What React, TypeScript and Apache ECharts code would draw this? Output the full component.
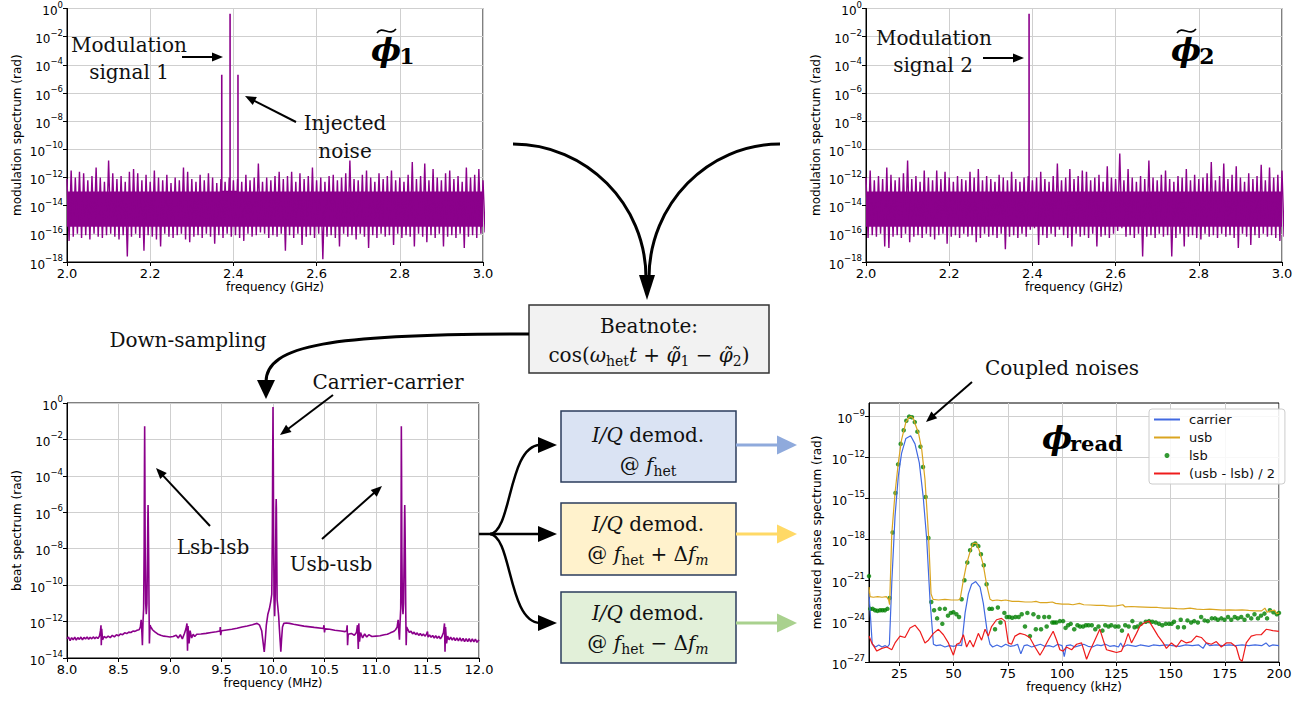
import React, { useEffect, useRef } from 'react';
import * as echarts from 'echarts';

const SANS = 'DejaVu Sans';
const SERIF = 'DejaVu Serif';
const PURPLE = '#8b008b';

// ---- top-left: modulation spectrum phi1 (values are log10 of rad) ----
const noiseStartGHz = 2.0;
const noiseStepGHz = 0.01;
const phi1NoiseTop = [-12.1,-11.5,-12.0,-11.6,-11.7,-12.2,-11.9,-11.3,-12.0,-12.3,
 -10.8,-11.7,-12.1,-11.9,-12.3,-11.6,-11.4,-11.7,-12.2,-11.8,
 -12.3,-11.5,-12.0,-12.2,-11.8,-12.4,-12.0,-12.2,-11.3,-11.6,
 -12.1,-12.3,-11.8,-12.2,-11.7,-12.0,-12.4,-12.1,-12.3,-12.0,
 -12.2,-12.1,-12.3,-11.8,-12.2,-12.0,-11.0,-12.3,-12.0,-12.2,
 -11.9,-11.6,-12.1,-11.9,-11.6,-12.3,-11.7,-12.1,-11.9,-11.3,
 -12.2,-12.0,-12.3,-11.9,-11.8,-12.2,-12.0,-11.7,-10.8,-12.1,
 -12.2,-11.8,-11.5,-12.0,-12.3,-11.7,-12.1,-11.9,-11.5,-12.2,
 -12.0,-12.3,-11.8,-10.9,-12.1,-11.9,-11.0,-12.2,-11.4,-12.0,
 -12.2,-11.7,-11.5,-12.1,-11.9,-12.3,-11.3,-12.0,-11.8,-11.4,
 -12.2];
const phi1NoiseBottom = [-16.5,-16.2,-16.0,-16.3,-16.1,-16.4,-16.0,-16.2,-16.3,-16.1,
 -16.0,-16.2,-16.4,-16.1,-17.6,-16.2,-16.0,-16.3,-17.2,-16.1,
 -16.2,-16.4,-16.9,-16.0,-16.2,-16.3,-16.1,-16.0,-16.4,-16.6,
 -16.2,-16.1,-16.3,-16.0,-16.2,-16.7,-16.1,-16.3,-16.0,-16.2,
 -16.1,-16.3,-16.5,-16.0,-16.2,-16.1,-15.9,-16.0,-16.3,-16.1,
 -16.2,-16.0,-17.2,-16.1,-16.3,-16.0,-16.8,-16.2,-16.1,-16.3,
 -16.0,-17.8,-16.2,-16.1,-16.3,-16.9,-16.0,-16.2,-16.1,-16.4,
 -16.0,-16.2,-17.0,-16.1,-16.3,-16.0,-16.2,-16.1,-16.8,-16.0,
 -16.3,-16.1,-16.2,-16.9,-16.0,-16.2,-16.6,-16.1,-16.3,-16.0,
 -16.9,-16.2,-16.1,-16.3,-16.0,-17.0,-16.2,-16.1,-16.3,-16.0,
 -15.9];
const noiseBand = [-15.5, -13.0];
const phi1PeakGHz = [2.372, 2.392, 2.411];
const phi1PeakLog = [-4.7, -0.38, -4.7];

// ---- top-right: modulation spectrum phi2 ----
const phi2NoiseTop = [-12.0,-11.5,-12.2,-11.9,-12.1,-11.3,-11.8,-12.2,-12.0,-11.7,
 -10.8,-12.1,-11.9,-12.3,-11.5,-12.0,-12.2,-11.5,-12.1,-11.6,
 -12.0,-12.3,-11.9,-12.1,-12.2,-11.6,-12.0,-11.4,-12.2,-11.9,
 -12.1,-12.3,-11.8,-12.0,-12.2,-11.6,-12.1,-12.3,-12.0,-11.9,
 -12.2,-12.0,-11.6,-12.1,-12.3,-11.9,-11.0,-12.2,-12.0,-11.4,
 -12.1,-11.9,-11.5,-11.6,-12.2,-12.0,-11.8,-12.3,-11.2,-12.0,
 -12.1,-10.3,-12.2,-11.4,-12.0,-12.3,-11.9,-12.1,-10.8,-12.0,
 -12.2,-11.8,-11.5,-12.1,-12.3,-11.9,-12.0,-11.4,-12.2,-11.8,
 -12.1,-12.0,-11.7,-10.9,-12.2,-11.9,-11.0,-12.1,-11.8,-11.2,
 -12.0,-12.3,-11.7,-12.1,-11.9,-11.1,-12.2,-11.3,-12.0,-11.8,
 -11.5];
const phi2NoiseBottom = [-16.3,-16.1,-16.2,-16.0,-16.9,-17.0,-16.2,-16.1,-16.3,-16.0,
 -16.6,-16.2,-16.1,-16.3,-16.0,-16.2,-16.4,-16.1,-16.0,-16.7,
 -16.2,-16.1,-16.3,-16.0,-16.2,-16.1,-16.6,-16.3,-16.0,-16.2,
 -16.1,-16.3,-16.0,-17.1,-16.2,-16.1,-16.3,-16.0,-16.2,-15.7,
 -15.6,-16.8,-16.1,-16.3,-16.0,-16.2,-15.7,-16.1,-16.3,-16.9,
 -16.0,-16.2,-16.1,-16.3,-16.0,-16.9,-16.2,-16.1,-16.3,-16.0,
 -15.8,-15.6,-16.2,-16.1,-16.3,-16.0,-17.6,-16.2,-16.1,-16.3,
 -16.0,-16.2,-16.1,-17.6,-16.3,-16.0,-16.9,-16.2,-16.1,-16.3,
 -16.4,-16.0,-16.2,-16.1,-16.3,-16.0,-16.2,-16.1,-16.3,-17.0,
 -16.0,-16.2,-16.8,-16.1,-16.3,-16.0,-16.2,-16.1,-16.3,-16.5,
 -16.2];
const phi2PeakGHz = [2.392];
const phi2PeakLog = [-0.38];
const peakBaseLog = -13;

// ---- bottom-left: beat spectrum [MHz, log10 rad] ----
const beatSpectrum = [
 [8.000,-12.95],[8.015,-12.85],[8.030,-13.05],[8.045,-12.88],[8.060,-13.0],[8.075,-12.85],[8.090,-13.02],[8.105,-12.88],
 [8.120,-12.98],[8.135,-12.85],[8.150,-13.0],[8.165,-12.87],[8.180,-12.96],[8.195,-12.84],[8.210,-12.97],[8.225,-12.86],
 [8.240,-12.95],[8.255,-12.84],[8.270,-12.94],[8.285,-12.85],[8.300,-12.93],[8.315,-12.8],[8.325,-12.5],[8.330,-12.2],
 [8.333,-13.3],[8.337,-12.4],[8.345,-13.0],[8.360,-12.82],[8.380,-12.9],[8.400,-12.8],[8.420,-12.88],[8.440,-12.76],
 [8.460,-12.84],[8.480,-12.72],[8.500,-12.78],[8.520,-12.68],[8.540,-12.72],[8.560,-12.62],[8.580,-12.66],[8.600,-12.58],
 [8.620,-12.6],[8.640,-12.52],[8.660,-12.54],[8.680,-12.48],[8.700,-12.45],[8.712,-12.3],[8.720,-11.9],[8.727,-12.6],
 [8.732,-13.3],[8.738,-12.0],[8.744,-11.3],[8.749,-8.0],[8.752,-3.5],[8.754,-1.28],[8.756,-3.5],[8.759,-8.0],
 [8.764,-11.0],[8.770,-11.6],[8.776,-11.0],[8.781,-8.5],[8.785,-6.3],[8.787,-5.6],[8.789,-6.3],[8.793,-8.5],
 [8.797,-11.5],[8.800,-13.2],[8.806,-12.2],[8.815,-12.3],[8.830,-12.45],[8.850,-12.55],[8.880,-12.68],[8.910,-12.75],
 [8.940,-12.8],[8.970,-12.82],[9.000,-12.85],[9.030,-12.82],[9.060,-12.75],[9.080,-12.9],[9.100,-12.72],[9.120,-12.95],
 [9.140,-12.65],[9.155,-12.4],[9.165,-12.1],[9.170,-13.6],[9.175,-12.25],[9.185,-13.2],[9.195,-12.5],[9.210,-12.9],
 [9.225,-12.7],[9.240,-12.82],[9.260,-12.7],[9.300,-12.68],[9.350,-12.65],[9.400,-12.6],[9.450,-12.56],[9.485,-12.52],
 [9.488,-12.3],[9.492,-12.75],[9.500,-12.5],[9.550,-12.46],[9.600,-12.42],[9.650,-12.37],[9.700,-12.3],[9.750,-12.24],
 [9.800,-12.17],[9.845,-12.1],[9.870,-12.2],[9.890,-12.5],[9.905,-13.2],[9.915,-13.66],[9.925,-13.0],[9.935,-12.2],
 [9.950,-11.6],[9.965,-11.3],[9.978,-10.9],[9.988,-10.5],[9.994,-7.0],[9.997,-3.0],[10.000,-0.22],[10.003,-3.0],
 [10.006,-7.0],[10.010,-10.6],[10.016,-11.7],[10.022,-10.5],[10.026,-8.0],[10.029,-5.8],[10.031,-5.27],[10.033,-5.8],
 [10.036,-8.0],[10.040,-10.8],[10.047,-11.2],[10.055,-11.7],[10.062,-12.4],[10.070,-13.1],[10.076,-13.66],[10.083,-13.0],
 [10.092,-12.3],[10.105,-12.1],[10.130,-12.08],[10.160,-12.1],[10.200,-12.15],[10.300,-12.25],[10.400,-12.32],[10.490,-12.38],
 [10.495,-12.2],[10.500,-12.6],[10.505,-12.4],[10.550,-12.42],[10.600,-12.48],[10.660,-12.52],[10.700,-12.55],[10.715,-12.5],
 [10.720,-12.2],[10.724,-13.3],[10.730,-12.7],[10.760,-12.65],[10.790,-12.75],[10.810,-12.6],[10.820,-12.2],[10.828,-13.5],
 [10.833,-12.1],[10.840,-13.1],[10.850,-12.6],[10.870,-12.9],[10.890,-12.68],[10.910,-12.85],[10.930,-12.72],[10.960,-12.82],
 [11.000,-12.8],[11.040,-12.78],[11.080,-12.72],[11.110,-12.7],[11.140,-12.62],[11.170,-12.55],[11.190,-12.45],[11.205,-12.3],
 [11.215,-11.9],[11.222,-12.6],[11.228,-13.0],[11.234,-12.0],[11.240,-11.3],[11.243,-8.0],[11.245,-3.5],[11.246,-1.28],
 [11.248,-3.5],[11.251,-8.0],[11.256,-11.0],[11.262,-11.6],[11.268,-11.0],[11.273,-8.5],[11.277,-6.3],[11.279,-5.6],
 [11.281,-6.3],[11.285,-8.5],[11.289,-11.5],[11.293,-13.3],[11.298,-12.3],[11.310,-12.45],[11.325,-12.6],[11.340,-12.52],
 [11.355,-12.68],[11.370,-12.58],[11.385,-12.72],[11.400,-12.62],[11.415,-12.76],[11.430,-12.65],[11.445,-12.78],[11.460,-12.68],
 [11.475,-12.8],[11.490,-12.7],[11.500,-12.55],[11.505,-12.85],[11.520,-12.74],[11.535,-12.86],[11.550,-12.76],[11.565,-12.9],
 [11.580,-12.78],[11.595,-12.92],[11.610,-12.8],[11.625,-12.95],[11.640,-12.82],[11.655,-12.6],[11.665,-12.1],[11.670,-13.66],
 [11.675,-12.3],[11.685,-13.2],[11.695,-12.8],[11.710,-13.0],[11.725,-12.86],[11.740,-13.02],[11.755,-12.88],[11.770,-13.04],
 [11.785,-12.9],[11.800,-13.06],[11.815,-12.9],[11.830,-13.08],[11.845,-12.92],[11.860,-13.1],[11.875,-12.93],[11.890,-13.1],
 [11.905,-12.94],[11.920,-13.12],[11.935,-12.95],[11.950,-13.12],[11.965,-12.96],[11.980,-13.14],[12.000,-13.0]
];

// ---- bottom-right: measured phase spectrum [kHz, log10 rad] ----
const carrier = [[11,-22.0],[12.5,-25.7],[14,-25.9],[15.5,-25.75],[17,-25.9],[18.5,-25.8],[19.5,-25.9],[20.4,-25.7],
 [21.5,-21.2],[23,-16.3],[24.5,-13.4],[26,-11.7],[28,-10.6],[30.2,-10.4],[32.2,-11.0],[34.2,-12.4],[36,-14.9],[37.6,-18.0],
 [39.1,-22.4],[40.7,-25.7],[42,-25.8],[44,-25.75],[46,-25.9],[48,-25.8],[50,-25.85],[52,-25.75],[53.7,-25.8],[55.3,-23.4],
 [56.8,-22.0],[58.3,-21.3],[60.2,-21.1],[62.2,-21.5],[63.7,-22.7],[65.6,-24.9],[66.8,-25.7],[68,-25.9],[70,-25.75],[72,-25.9],
 [74,-25.7],[76,-25.85],[78,-25.8],[79.5,-25.7],[81,-26.4],[82.5,-25.8],[84,-25.75],[86,-25.9],[88,-25.8],[90,-25.7],
 [92,-25.85],[94,-25.8],[96,-25.9],[98,-25.7],[100,-25.8],[101,-26.6],[102,-25.8],[104,-25.75],[106,-25.9],[108,-25.8],
 [110,-25.7],[112,-25.85],[114,-25.9],[116,-25.75],[118,-25.8],[120,-25.7],[122,-25.85],[124,-25.8],[126,-25.9],[127,-25.6],
 [128,-25.9],[130,-25.75],[132,-25.8],[134,-25.85],[136,-25.75],[138,-25.8],[140,-25.85],[142,-25.75],[145,-25.8],[148,-25.75],
 [151,-25.8],[154,-25.85],[157,-25.75],[160,-25.8],[163,-25.75],[165,-26.0],[166.5,-25.6],[168,-25.8],[171,-25.75],[174,-25.8],
 [177,-25.75],[180,-25.8],[183,-25.75],[186,-25.8],[189,-25.75],[192,-25.8],[194,-25.6],[195.5,-25.85],[197,-25.75],[200,-25.8]];
const usb = [[11,-21.5],[11.5,-22.2],[13,-22.25],[15,-22.2],[17,-22.25],[19,-22.2],[20,-22.4],[20.5,-22.8],[21.5,-17.6],
 [23,-14.6],[24.5,-12.4],[26,-10.7],[28,-9.4],[29.5,-9.05],[30.4,-9.0],[31.5,-9.15],[32.2,-9.5],[33.8,-10.2],[35.3,-11.4],
 [36.8,-13.6],[38.4,-17.6],[39.6,-22.0],[40.5,-22.4],[43,-22.45],[46,-22.4],[49,-22.45],[52,-22.45],[53,-22.4],[54.5,-21.0],
 [56,-19.8],[57.6,-18.9],[59,-18.3],[60.6,-18.3],[62,-18.9],[63.7,-19.9],[65.2,-21.3],[66.8,-22.4],[68,-22.5],[70,-22.45],
 [72,-22.5],[74,-22.45],[77,-22.55],[80,-22.55],[83,-22.6],[86,-22.6],[88,-22.55],[90,-22.65],[93,-22.65],[95.5,-22.6],
 [97,-22.7],[100,-22.75],[103,-22.75],[105,-22.8],[108,-22.7],[110,-22.8],[113,-22.82],[116,-22.85],[119,-22.85],[122,-22.9],
 [125,-22.88],[128,-22.8],[129,-22.95],[132,-22.93],[135,-22.95],[138,-22.97],[141,-23.0],[144,-23.0],[147,-23.05],[150,-23.05],
 [153,-23.08],[156,-23.1],[159,-23.05],[162,-23.12],[165,-23.15],[168,-23.12],[171,-23.16],[174,-23.2],[177,-23.17],[180,-23.2],
 [183,-23.18],[186,-23.22],[189,-23.25],[192,-23.25],[193.5,-23.05],[194.5,-23.35],[196,-23.25],[198,-23.2],[199,-23.45],[200,-23.4]];
const lsb = [[11,-20.7],[11.6,-23.1],[12.7,-23.1],[13.8,-23.2],[14.9,-23.25],[16.1,-23.2],[17.2,-23.2],[18.3,-23.2],[19.5,-23.1],
 [20.5,-22.3],[21.9,-17.5],[23.2,-14.6],[24.4,-12.5],[25.6,-11.0],[27,-10.0],[28.2,-9.3],[29.5,-9.0],[30.8,-9.05],[32.1,-9.4],
 [33.3,-10.1],[34.7,-11.2],[35.9,-12.7],[37.1,-14.9],[38.4,-17.9],[39.7,-22.6],[41,-23.2],[42.4,-23.8],[43.6,-23.1],[44.8,-24.2],
 [46,-23.1],[47.4,-23.6],[48.7,-23.4],[49.9,-23.35],[51.3,-23.5],[52.5,-23.7],[53.7,-22.4],[55,-21.0],[56.3,-19.7],[57.6,-18.8],
 [58.8,-18.4],[60,-18.3],[61.4,-18.5],[62.6,-19.1],[63.9,-19.9],[65.2,-21.3],[66.5,-23.1],[67.7,-23.1],[69.1,-24.6],[70.4,-23.0],
 [71.6,-24.1],[73.4,-23.4],[74.5,-23.7],[75.7,-23.7],[77,-23.75],[78.5,-23.7],[80,-23.7],[81.4,-23.5],[82.9,-24.4],[84,-23.4],
 [85.2,-25.1],[86.8,-23.5],[87.9,-24.6],[89.1,-23.7],[90.3,-24.6],[91.8,-23.7],[92.9,-24.4],[94,-23.7],[95.5,-24.1],[96.4,-24.1],
 [97.4,-24.1],[99,-24.0],[100.5,-24.0],[101.6,-24.5],[102.8,-24.3],[104,-24.2],[105.6,-24.6],[107.1,-24.3],[108.3,-24.4],[109.7,-24.4],
 [111,-24.3],[112.2,-24.3],[113.7,-24.3],[115.3,-24.6],[116.8,-24.4],[118.6,-24.7],[119.9,-24.3],[121.4,-24.4],[122.7,-24.3],[124.5,-24.4],
 [126,-24.4],[127.6,-24.7],[129.1,-24.3],[130.7,-24.4],[132.4,-24.0],[133.4,-24.45],[134.8,-24.4],[136.3,-24.2],[138.6,-24.05],[140.1,-24.0],
 [141.6,-24.05],[143.2,-24.1],[144.7,-24.2],[146.2,-24.3],[147.8,-24.2],[149.3,-24.2],[150.5,-24.2],[151.6,-24.05],[153.4,-24.45],[154.7,-23.9],
 [156.2,-24.45],[157.8,-23.95],[159.5,-24.1],[160.9,-24.0],[162.6,-24.1],[164.1,-23.7],[165.7,-23.95],[167.2,-24.0],[169,-23.8],[170.5,-23.8],
 [171.8,-23.9],[173.4,-23.8],[174.9,-23.9],[176.5,-23.7],[178,-23.9],[179.6,-23.7],[181,-23.8],[182.6,-23.7],[184.1,-23.9],[185.6,-23.6],
 [187.2,-23.8],[188.7,-23.5],[190.3,-23.8],[191.7,-23.6],[193.3,-23.45],[194.5,-23.8],[195.8,-23.2],[197.4,-23.35],[199,-23.5],[200,-23.4]];
const halfDiff = [[11,-25.1],[12.3,-25.6],[14.6,-26.2],[16.9,-26.0],[19.2,-25.9],[21.5,-26.1],[23,-25.6],[25.3,-25.1],[27.6,-25.2],
 [29.9,-24.5],[32.2,-24.3],[34.5,-24.75],[36.8,-25.6],[38.4,-25.4],[40.7,-24.9],[43,-24.6],[45.3,-25.0],[47.6,-25.6],[49.9,-26.5],
 [51.4,-25.7],[52.9,-25.6],[54.5,-25.0],[56,-25.9],[57.5,-25.4],[59.1,-25.9],[61.4,-24.9],[62.9,-25.4],[64.5,-24.6],[66,-25.1],
 [67.5,-24.4],[69.8,-23.9],[72.1,-23.8],[73.7,-24.0],[75.2,-25.6],[76.7,-25.7],[78.3,-25.1],[80.6,-24.9],[82.9,-25.0],[85.1,-25.2],
 [87.5,-25.9],[89.8,-26.5],[91.3,-26.1],[93.6,-25.4],[95.9,-24.75],[97.5,-25.4],[99,-26.1],[100.5,-26.2],[102,-25.9],[104.4,-26.1],
 [106.7,-25.7],[109,-25.6],[111.3,-26.8],[112.8,-26.2],[115.1,-25.4],[117.4,-24.6],[119,-25.4],[120.5,-26.1],[122.8,-26.2],[125.1,-26.3],
 [127.4,-26.2],[129,-25.6],[130.5,-24.9],[132,-25.6],[134.3,-24.9],[135.8,-24.4],[138.1,-24.1],[140.1,-24.0],[142,-24.5],[144.3,-25.1],
 [146.6,-25.6],[148.1,-26.0],[150.4,-25.6],[152.7,-25.9],[155,-25.4],[157.3,-25.6],[159.6,-25.5],[161.9,-25.1],[164.2,-25.2],[166.5,-25.6],
 [168.8,-25.7],[171.1,-25.5],[173.4,-25.9],[175.7,-25.6],[178,-25.6],[180.3,-25.9],[181.9,-26.8],[183,-26.95],[184.9,-25.6],[187.2,-25.1],
 [189.5,-25.0],[191.8,-25.0],[194.1,-24.6],[197.2,-24.7],[200,-24.75]];

const topXTicks = [2.0, 3.0, 0.2];
const beatXTicks = [8.0, 12.0, 0.5];
const phaseXTicks = [25, 50, 75, 100, 125, 150, 175, 200];
const phaseYTicks = [-27, -24, -21, -18, -15, -12, -9];

function noiseData(top: number[], bottom: number[]) {
  const out: number[][] = [];
  top.forEach((t, i) => {
    const x = noiseStartGHz + i * noiseStepGHz;
    out.push([x, t]);
    out.push([x + noiseStepGHz / 2, bottom[i]]);
  });
  return out;
}
function peakData(f: number[], v: number[]) {
  const out: number[][] = [];
  f.forEach((x, i) => {
    out.push([x, peakBaseLog], [x, v[i]], [x, peakBaseLog]);
  });
  return out;
}

const expRich = {
  b: { fontSize: 12, fontFamily: SANS, color: '#000', lineHeight: 17, verticalAlign: 'bottom' },
  s: { fontSize: 8.5, fontFamily: SANS, color: '#000', lineHeight: 17, verticalAlign: 'top' },
};
const expFmt = (v: number) => {
  const n = Math.round(v);
  return `{b|10}{s|${n < 0 ? '\u2212' + -n : n}}`;
};

const axisCommon = {
  type: 'value',
  nameLocation: 'middle',
  nameTextStyle: { fontSize: 12, fontFamily: SANS, color: '#000' },
  axisLine: { show: true, onZero: false, lineStyle: { color: '#000', width: 1 } },
  axisTick: { show: true, length: 4, lineStyle: { color: '#000', width: 1 } },
  splitLine: { show: true, lineStyle: { color: '#cfcfcf', width: 1 } },
};
function mkX(gi: number, min: number, max: number, interval: number | undefined, name: string, digits: number, extra: any = {}) {
  return {
    ...axisCommon,
    gridIndex: gi, min, max, interval, name, nameGap: 19,
    axisLabel: { fontSize: 13, fontFamily: SANS, color: '#000', margin: 5, formatter: (v: number) => v.toFixed(digits), ...(extra.axisLabel || {}) },
    axisTick: { ...axisCommon.axisTick, ...(extra.axisTick || {}) },
  };
}
function mkY(gi: number, min: number, max: number, interval: number | undefined, name: string, gap: number, extra: any = {}) {
  return {
    ...axisCommon,
    gridIndex: gi, min, max, interval, name, nameGap: gap,
    axisLabel: { margin: 4, formatter: expFmt, rich: expRich, ...(extra.axisLabel || {}) },
    axisTick: { ...axisCommon.axisTick, ...(extra.axisTick || {}) },
  };
}

function arrow(x1: number, y1: number, x2: number, y2: number, lw = 2, len = 11, w = 9, color = '#000') {
  const a = Math.atan2(y2 - y1, x2 - x1);
  const bx = x2 - len * Math.cos(a), by = y2 - len * Math.sin(a);
  const px = (-Math.sin(a) * w) / 2, py = (Math.cos(a) * w) / 2;
  return [
    { type: 'line', z: 50, shape: { x1, y1, x2: bx + Math.cos(a), y2: by + Math.sin(a) }, style: { stroke: color, lineWidth: lw } },
    { type: 'polygon', z: 50, shape: { points: [[x2, y2], [bx + px, by + py], [bx - px, by - py]] }, style: { fill: color } },
  ];
}
function curve(x1: number, y1: number, c1x: number, c1y: number, c2x: number, c2y: number, x2: number, y2: number, lw = 3, color = '#000') {
  return { type: 'bezierCurve', z: 50, shape: { x1, y1, cpx1: c1x, cpy1: c1y, cpx2: c2x, cpy2: c2y, x2, y2 }, style: { stroke: color, lineWidth: lw, fill: null } };
}
function head(points: number[][], color = '#000') {
  return { type: 'polygon', z: 50, shape: { points }, style: { fill: color } };
}
function label(text: string, x: number, y: number, size = 20, extra: any = {}) {
  return {
    type: 'text', z: 60, x, y,
    style: { text, fontSize: size, fontFamily: SERIF, fill: '#111', align: 'center', verticalAlign: 'middle', ...extra },
  };
}
const boxRich = {
  i: { fontStyle: 'italic', fontSize: 20, fontFamily: SERIF, fill: '#111', lineHeight: 26, verticalAlign: 'middle' },
  sub: { fontSize: 14, fontFamily: SERIF, fill: '#111', lineHeight: 26, verticalAlign: 'bottom' },
  subi: { fontSize: 14, fontStyle: 'italic', fontFamily: SERIF, fill: '#111', lineHeight: 26, verticalAlign: 'bottom' },
};
function boxText(text: string, x: number, y: number) {
  return {
    type: 'text', z: 60, x, y,
    style: { text, fontSize: 20, fontFamily: SERIF, fill: '#111', align: 'center', verticalAlign: 'middle', lineHeight: 26, rich: boxRich },
  };
}
function phiTitle(x: number, y: number, sub: string, tilde: boolean) {
  const els: any[] = [
    { type: 'text', z: 60, x, y, style: { text: '\u03d5', fontSize: 32, fontFamily: SERIF, fontWeight: 'bold', fontStyle: 'italic', fill: '#000', align: 'center', verticalAlign: 'middle' } },
  ];
  if (sub === 'read') {
    els.push({ type: 'text', z: 60, x: x + 13, y: y + 5, style: { text: sub, fontSize: 21, fontFamily: SERIF, fontWeight: 'bold', fill: '#000', align: 'left', verticalAlign: 'middle' } });
  } else {
    els.push({ type: 'text', z: 60, x: x + 21, y: y + 6, style: { text: sub, fontSize: 22, fontFamily: SERIF, fontWeight: 'bold', fill: '#000', align: 'center', verticalAlign: 'middle' } });
  }
  if (tilde) {
    els.push({ type: 'bezierCurve', z: 60, shape: { x1: x - 9, y1: y - 17, cpx1: x - 4, cpy1: y - 25, cpx2: x + 4, cpy2: y - 13, x2: x + 10, y2: y - 21 }, style: { stroke: '#000', lineWidth: 1.6, fill: null } });
  }
  return els;
}

const graphicElements: any[] = [
  // annotations top-left
  label('Modulation', 129, 45), label('signal 1', 129, 72),
  ...arrow(182, 57, 223, 57),
  label('Injected', 345, 123), label('noise', 345, 151),
  ...arrow(296, 122, 245, 96),
  ...phiTitle(386, 50, '1', true),
  // annotations top-right
  label('Modulation', 934, 38), label('signal 2', 933, 65),
  ...arrow(983, 58, 1024, 58),
  ...phiTitle(1186, 50, '2', true),
  // converging arrows
  curve(513, 144, 586, 144, 646, 204, 646, 278),
  curve(780, 144, 708, 144, 649, 204, 649, 278),
  head([[639, 275], [655, 275], [647, 300]]),
  // beatnote box
  { type: 'rect', z: 40, shape: { x: 529, y: 305, width: 240, height: 68 }, style: { fill: '#f2f2f2', stroke: '#333', lineWidth: 1.5 } },
  boxText('Beatnote:', 649, 326),
  boxText('cos({i|\u03c9}{sub|het}{i|t} + {i|\u03c6\u0303}{sub|1} \u2212 {i|\u03c6\u0303}{sub|2})', 649, 355),
  // down-sampling
  curve(529, 334, 330, 334, 266, 345, 266, 382),
  head([[257, 380], [275, 380], [266, 399]]),
  label('Down-sampling', 188, 340),
  label('Carrier-carrier', 388, 382),
  ...arrow(333, 395, 280, 435),
  label('Lsb-lsb', 213, 547),
  ...arrow(210, 526, 156, 468),
  label('Usb-usb', 331, 564),
  ...arrow(322, 539, 382, 486),
  // branches
  { type: 'line', z: 50, shape: { x1: 479, y1: 534, x2: 540, y2: 534 }, style: { stroke: '#000', lineWidth: 2.5 } },
  curve(490, 534, 512, 532, 508, 446, 540, 445, 2.5),
  curve(490, 534, 512, 536, 508, 622, 540, 623, 2.5),
  head([[538, 437], [538, 453], [557, 445]]),
  head([[538, 526], [538, 542], [557, 534]]),
  head([[538, 615], [538, 631], [557, 623]]),
  // demod boxes
  { type: 'rect', z: 40, shape: { x: 561, y: 411, width: 175, height: 71 }, style: { fill: '#dae3f3', stroke: '#2b3d5c', lineWidth: 1.5 } },
  { type: 'rect', z: 40, shape: { x: 561, y: 503, width: 175, height: 72 }, style: { fill: '#fff2cc', stroke: '#2b3d5c', lineWidth: 1.5 } },
  { type: 'rect', z: 40, shape: { x: 561, y: 592, width: 175, height: 71 }, style: { fill: '#e2f0d9', stroke: '#2b3d5c', lineWidth: 1.5 } },
  boxText('{i|I/Q} demod.', 648, 435),
  boxText('@ {i|f}{sub|het}', 648, 465),
  boxText('{i|I/Q} demod.', 648, 524),
  boxText('@ {i|f}{sub|het} + \u0394{i|f}{subi|m}', 648, 554),
  boxText('{i|I/Q} demod.', 648, 613),
  boxText('@ {i|f}{sub|het} \u2212 \u0394{i|f}{subi|m}', 648, 643),
  ...arrow(736, 445, 797, 445, 3, 20, 19, '#8faadc'),
  ...arrow(736, 534, 797, 534, 3, 20, 19, '#ffd966'),
  ...arrow(736, 623, 797, 623, 3, 20, 19, '#a9d18e'),
  // bottom-right
  label('Coupled noises', 1062, 368),
  ...arrow(972, 382, 926, 422),
  ...phiTitle(1057, 438, 'read', false),
];

const noLegendSymbol = { color: 'rgba(0,0,0,0)', borderWidth: 0, opacity: 0 };

const option: any = {
  animation: false,
  backgroundColor: '#ffffff',
  grid: [
    { left: 67, top: 7, width: 416, height: 255 },
    { left: 866, top: 7, width: 416, height: 255 },
    { left: 67, top: 403, width: 412, height: 255 },
    { left: 869, top: 403, width: 410, height: 259 },
  ].map((g) => ({ ...g, show: true, borderColor: '#000', borderWidth: 1, containLabel: false })),
  xAxis: [
    mkX(0, topXTicks[0], topXTicks[1], topXTicks[2], 'frequency (GHz)', 1),
    mkX(1, topXTicks[0], topXTicks[1], topXTicks[2], 'frequency (GHz)', 1),
    mkX(2, beatXTicks[0], beatXTicks[1], beatXTicks[2], 'frequency (MHz)', 1),
    mkX(3, 11, 200, undefined, 'frequency (kHz)', 0, { axisLabel: { customValues: phaseXTicks }, axisTick: { customValues: phaseXTicks } }),
  ],
  yAxis: [
    mkY(0, -18, 0, 2, 'modulation spectrum (rad)', 44),
    mkY(1, -18, 0, 2, 'modulation spectrum (rad)', 44),
    mkY(2, -14, 0, 2, 'beat spectrum (rad)', 44),
    mkY(3, -27, -8, undefined, 'measured phase spectrum (rad)', 46, { axisLabel: { customValues: phaseYTicks }, axisTick: { customValues: phaseYTicks } }),
  ],
  legend: {
    data: [
      { name: 'carrier', itemStyle: noLegendSymbol },
      { name: 'usb', itemStyle: noLegendSymbol },
      { name: 'lsb' },
      { name: '(usb - lsb) / 2', itemStyle: noLegendSymbol },
    ],
    orient: 'vertical', left: 1149, top: 409,
    itemWidth: 26, itemHeight: 5, itemGap: 3,
    padding: [3, 10, 3, 4],
    textStyle: { fontSize: 13, fontFamily: SANS, color: '#111', lineHeight: 15, padding: [0, 0, 0, 4] },
    backgroundColor: 'rgba(255,255,255,0.85)', borderColor: '#cccccc', borderWidth: 1, borderRadius: 3,
  },
  series: [
    {
      type: 'line', name: 'phi1', xAxisIndex: 0, yAxisIndex: 0, data: noiseData(phi1NoiseTop, phi1NoiseBottom),
      showSymbol: false, symbol: 'none', lineStyle: { color: PURPLE, width: 1.4 },
      markArea: { silent: true, itemStyle: { color: PURPLE, opacity: 1 }, data: [[{ yAxis: noiseBand[0] }, { yAxis: noiseBand[1] }]] },
    },
    { type: 'line', name: 'phi1peaks', xAxisIndex: 0, yAxisIndex: 0, data: peakData(phi1PeakGHz, phi1PeakLog), showSymbol: false, symbol: 'none', lineStyle: { color: PURPLE, width: 1.6 } },
    {
      type: 'line', name: 'phi2', xAxisIndex: 1, yAxisIndex: 1, data: noiseData(phi2NoiseTop, phi2NoiseBottom),
      showSymbol: false, symbol: 'none', lineStyle: { color: PURPLE, width: 1.4 },
      markArea: { silent: true, itemStyle: { color: PURPLE, opacity: 1 }, data: [[{ yAxis: noiseBand[0] }, { yAxis: noiseBand[1] }]] },
    },
    { type: 'line', name: 'phi2peaks', xAxisIndex: 1, yAxisIndex: 1, data: peakData(phi2PeakGHz, phi2PeakLog), showSymbol: false, symbol: 'none', lineStyle: { color: PURPLE, width: 1.6 } },
    { type: 'line', name: 'beat', xAxisIndex: 2, yAxisIndex: 2, data: beatSpectrum, showSymbol: false, symbol: 'none', lineStyle: { color: PURPLE, width: 1.6 } },
    { type: 'line', name: 'carrier', xAxisIndex: 3, yAxisIndex: 3, data: carrier, showSymbol: false, symbol: 'none', color: '#4169e1', lineStyle: { color: '#4169e1', width: 1.2 } },
    { type: 'line', name: 'usb', xAxisIndex: 3, yAxisIndex: 3, data: usb, showSymbol: false, symbol: 'none', color: '#daa520', lineStyle: { color: '#daa520', width: 1.2 } },
    { type: 'scatter', name: 'lsb', xAxisIndex: 3, yAxisIndex: 3, data: lsb, symbolSize: 4.5, itemStyle: { color: '#008000' } },
    { type: 'line', name: '(usb - lsb) / 2', xAxisIndex: 3, yAxisIndex: 3, data: halfDiff, showSymbol: false, symbol: 'none', color: '#ee1c1c', lineStyle: { color: '#ee1c1c', width: 1.2 } },
  ],
  graphic: { elements: graphicElements },
};

export default function App() {
  const ref = useRef<HTMLDivElement>(null);
  useEffect(() => {
    const chart = echarts.init(ref.current!, null, { renderer: 'svg' });
    chart.setOption(option);
    return () => chart.dispose();
  }, []);
  return <div ref={ref} style={{ position: 'absolute', left: 0, top: 0, width: 1310, height: 702 }} />;
}
